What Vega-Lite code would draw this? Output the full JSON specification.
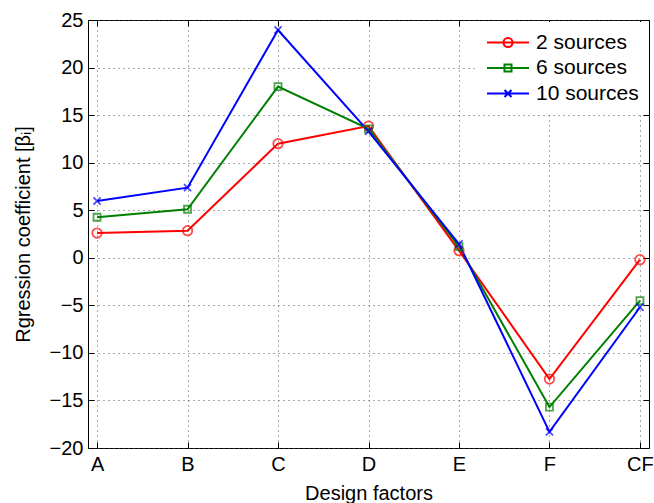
{
  "$schema": "https://vega.github.io/schema/vega-lite/v6.json",
  "width": 561,
  "height": 428,
  "autosize": {"type": "none"},
  "padding": {"left": 88, "top": 20, "right": 5, "bottom": 55},
  "background": "white",
  "config": {
    "view": {"stroke": "black", "strokeWidth": 1},
    "font": "Liberation Sans",
    "axis": {
      "labelFont": "Liberation Sans",
      "labelFontSize": 20,
      "labelColor": "black",
      "titleFont": "Liberation Sans",
      "titleFontSize": 20,
      "titleFontWeight": "normal",
      "titleColor": "black",
      "domain": false,
      "tickColor": "black",
      "tickSize": -6,
      "gridColor": "#555555",
      "gridDash": [1, 4],
      "gridOpacity": 1
    }
  },
  "data": {
    "values": [
      {"factor": "A", "series": "2 sources", "beta": 2.6},
      {"factor": "B", "series": "2 sources", "beta": 2.85},
      {"factor": "C", "series": "2 sources", "beta": 12.0},
      {"factor": "D", "series": "2 sources", "beta": 13.85},
      {"factor": "E", "series": "2 sources", "beta": 0.75},
      {"factor": "F", "series": "2 sources", "beta": -12.75},
      {"factor": "CF", "series": "2 sources", "beta": -0.2},
      {"factor": "A", "series": "6 sources", "beta": 4.26},
      {"factor": "B", "series": "6 sources", "beta": 5.1},
      {"factor": "C", "series": "6 sources", "beta": 18.0},
      {"factor": "D", "series": "6 sources", "beta": 13.55},
      {"factor": "E", "series": "6 sources", "beta": 1.17},
      {"factor": "F", "series": "6 sources", "beta": -15.7},
      {"factor": "CF", "series": "6 sources", "beta": -4.5},
      {"factor": "A", "series": "10 sources", "beta": 5.97},
      {"factor": "B", "series": "10 sources", "beta": 7.37},
      {"factor": "C", "series": "10 sources", "beta": 23.95},
      {"factor": "D", "series": "10 sources", "beta": 13.3},
      {"factor": "E", "series": "10 sources", "beta": 1.45},
      {"factor": "F", "series": "10 sources", "beta": -18.3},
      {"factor": "CF", "series": "10 sources", "beta": -5.2}
    ]
  },
  "resolve": {"axis": {"x": "independent", "y": "independent"}},
  "layer": [
    {
      "mark": {"type": "line", "strokeWidth": 2},
      "encoding": {
        "x": {
          "field": "factor",
          "type": "ordinal",
          "sort": ["A", "B", "C", "D", "E", "F", "CF"],
          "scale": {"type": "point", "padding": 0.1},
          "axis": {"title": "Design factors", "labelAngle": 0, "grid": true, "labelPadding": 12, "titlePadding": 9}
        },
        "y": {
          "field": "beta",
          "type": "quantitative",
          "scale": {"domain": [-20, 25], "nice": false, "zero": false},
          "axis": {"title": "Rgression coefficient [βᵢ]", "values": [-20, -15, -10, -5, 0, 5, 10, 15, 20, 25], "labelExpr": "replace(datum.label, '-', '−')", "grid": true, "labelPadding": 11, "titlePadding": 16}
        },
        "color": {
          "field": "series",
          "type": "nominal",
          "sort": ["2 sources", "6 sources", "10 sources"],
          "scale": {"domain": ["2 sources", "6 sources", "10 sources"], "range": ["#ff0000", "#008000", "#0000ff"]},
          "legend": {
            "title": null,
            "orient": "none",
            "legendX": 388,
            "legendY": 2,
            "fillColor": "white",
            "padding": 10,
            "labelFont": "Liberation Sans",
            "labelFontSize": 21,
            "labelColor": "black",
            "labelOffset": 6,
            "symbolSize": 1764,
            "symbolStrokeWidth": 2,
            "clipHeight": 21,
            "rowPadding": 3.5,
            "encode": {
              "symbols": {
                "update": {
                  "shape": {"signal": "datum.value == '2 sources' ? 'M-1,0L1,0M0.214,0A0.214,0.214,0,1,1,-0.214,0A0.214,0.214,0,1,1,0.214,0' : datum.value == '6 sources' ? 'M-1,0L1,0M-0.167,-0.167L0.167,-0.167L0.167,0.167L-0.167,0.167Z' : 'M-1,0L1,0M-0.167,-0.167L0.167,0.167M-0.167,0.167L0.167,-0.167'"},
                  "fill": {"value": "transparent"},
                  "strokeWidth": {"value": 2}
                }
              }
            }
          }
        }
      }
    },
    {
      "transform": [{"filter": "datum.series == '2 sources'"}],
      "mark": {"type": "point", "filled": false, "strokeWidth": 1.8, "shape": "circle", "size": 90},
      "encoding": {
        "x": {
          "field": "factor",
          "type": "ordinal",
          "sort": ["A", "B", "C", "D", "E", "F", "CF"],
          "axis": {"orient": "top", "labels": false, "title": null, "grid": false}
        },
        "y": {
          "field": "beta",
          "type": "quantitative",
          "axis": {"orient": "right", "labels": false, "title": null, "grid": false, "values": [-20, -15, -10, -5, 0, 5, 10, 15, 20, 25]}
        },
        "color": {"field": "series", "type": "nominal", "sort": ["2 sources", "6 sources", "10 sources"]}
      }
    },
    {
      "transform": [{"filter": "datum.series == '6 sources'"}],
      "mark": {"type": "point", "filled": false, "strokeWidth": 1.8, "shape": "square", "size": 49},
      "encoding": {
        "x": {"field": "factor", "type": "ordinal", "sort": ["A", "B", "C", "D", "E", "F", "CF"], "axis": null},
        "y": {"field": "beta", "type": "quantitative", "axis": null},
        "color": {"field": "series", "type": "nominal", "sort": ["2 sources", "6 sources", "10 sources"]}
      }
    },
    {
      "transform": [{"filter": "datum.series == '10 sources'"}],
      "mark": {"type": "point", "filled": false, "strokeWidth": 1.8, "shape": "M-1,-1L1,1M-1,1L1,-1", "size": 50},
      "encoding": {
        "x": {"field": "factor", "type": "ordinal", "sort": ["A", "B", "C", "D", "E", "F", "CF"], "axis": null},
        "y": {"field": "beta", "type": "quantitative", "axis": null},
        "color": {"field": "series", "type": "nominal", "sort": ["2 sources", "6 sources", "10 sources"]}
      }
    }
  ]
}
